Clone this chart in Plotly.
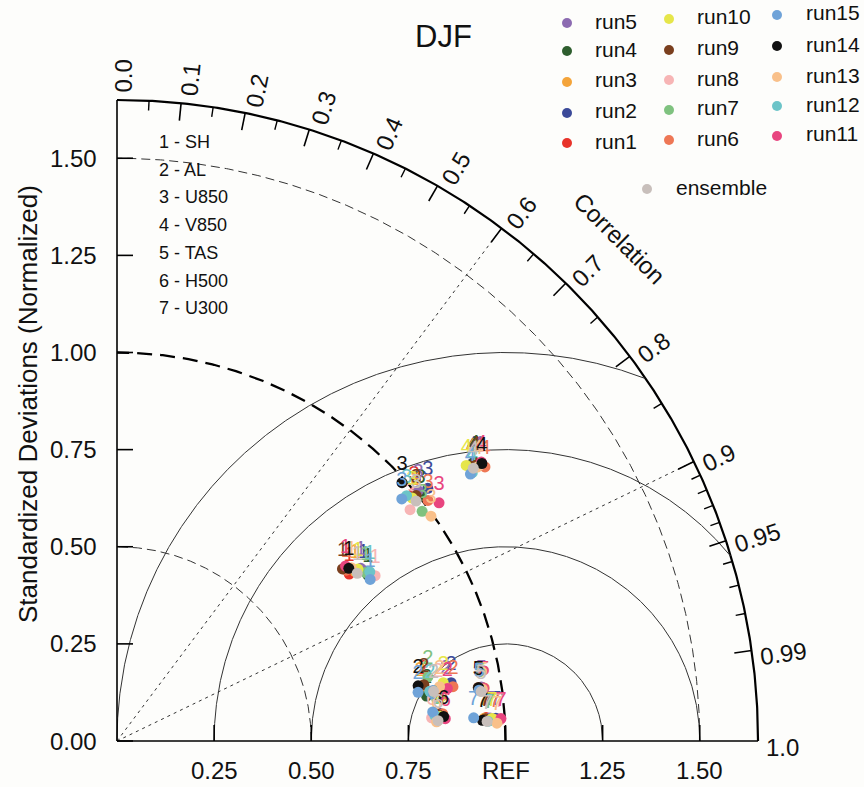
import numpy as np
import plotly.graph_objects as go

W, H = 864, 787
FONT = "Liberation Sans, Arial, Helvetica, sans-serif"

# ------------------------------------------------------------------ data
run_names = [f"run{i}" for i in range(1, 16)] + ["ensemble"]
run_colors = ["#E8332A", "#3B4A99", "#F4A43A", "#2E5E2E", "#8C6BB1",
              "#EE7755", "#7FC27F", "#F7B5B5", "#7A3F1E", "#E6E64A",
              "#E8457F", "#6CC4C8", "#F9C08A", "#111111", "#6FA3D8",
              "#C8BFBB"]
var_ids = ["1", "2", "3", "4", "5", "6", "7"]
var_names = ["SH", "AL", "U850", "V850", "TAS", "H500", "U300"]

# normalized standard deviation and correlation, order: run1..run15, ensemble
sd_SH = [0.736, 0.771, 0.752, 0.774, 0.769, 0.736, 0.773, 0.789,
         0.730, 0.762, 0.741, 0.783, 0.750, 0.744, 0.773, 0.754]
corr_SH = [0.812, 0.822, 0.814, 0.834, 0.816, 0.802, 0.828, 0.842,
           0.795, 0.814, 0.794, 0.831, 0.804, 0.802, 0.843, 0.820]
sd_AL = [0.802, 0.873, 0.792, 0.805, 0.857, 0.876, 0.817, 0.836,
         0.803, 0.853, 0.861, 0.815, 0.842, 0.788, 0.785, 0.825]
corr_AL = [0.9847, 0.9851, 0.9853, 0.9896, 0.9866, 0.9872, 0.9794, 0.9874,
           0.9836, 0.9844, 0.9876, 0.9876, 0.9861, 0.9836, 0.9872, 0.9879]
sd_U850 = [0.997, 1.031, 0.992, 1.003, 1.008, 1.012, 0.983, 0.961,
           0.996, 0.984, 1.031, 0.977, 0.994, 0.990, 0.962, 0.987]
corr_U850 = [0.767, 0.776, 0.776, 0.778, 0.769, 0.791, 0.799, 0.785,
             0.773, 0.772, 0.804, 0.763, 0.813, 0.741, 0.762, 0.780]
sd_V850 = [1.167, 1.161, 1.156, 1.167, 1.173, 1.181, 1.158, 1.174,
           1.167, 1.145, 1.181, 1.146, 1.165, 1.180, 1.140, 1.155]
corr_V850 = [0.792, 0.788, 0.789, 0.788, 0.793, 0.802, 0.793, 0.796,
             0.790, 0.785, 0.794, 0.798, 0.796, 0.796, 0.798, 0.794]
sd_TAS = [0.945, 0.950, 0.942, 0.946, 0.948, 0.955, 0.943, 0.952,
          0.940, 0.945, 0.953, 0.944, 0.950, 0.941, 0.941, 0.946]
corr_TAS = [0.9897, 0.9894, 0.9895, 0.9895, 0.9892, 0.9897, 0.9898, 0.9899,
            0.9892, 0.9901, 0.9898, 0.9897, 0.9900, 0.9893, 0.9903, 0.9909]
sd_H500 = [0.828, 0.833, 0.823, 0.831, 0.818, 0.841, 0.824, 0.812,
           0.829, 0.835, 0.847, 0.821, 0.824, 0.843, 0.816, 0.828]
corr_H500 = [0.9964, 0.9963, 0.9966, 0.9968, 0.9961, 0.9965, 0.9972, 0.9973,
             0.9966, 0.9971, 0.9977, 0.9968, 0.9982, 0.9972, 0.9958, 0.9980]
sd_U300 = [0.952, 0.977, 0.947, 0.957, 0.962, 0.974, 0.959, 0.987,
           0.950, 0.967, 0.990, 0.956, 0.979, 0.942, 0.920, 0.954]
corr_U300 = [0.9980, 0.9982, 0.9981, 0.9983, 0.9981, 0.9984, 0.9985, 0.9985,
             0.9982, 0.9982, 0.9983, 0.9986, 0.9989, 0.9984, 0.9979, 0.9986]

sd_table = [sd_SH, sd_AL, sd_U850, sd_V850, sd_TAS, sd_H500, sd_U300]
corr_table = [corr_SH, corr_AL, corr_U850, corr_V850, corr_TAS, corr_H500, corr_U300]

sd_max = 1.65
x_ticks = [0.25, 0.5, 0.75, 1.0, 1.25, 1.5]
x_tick_labels = ["0.25", "0.50", "0.75", "REF", "1.25", "1.50"]
y_ticks = [0.0, 0.25, 0.5, 0.75, 1.0, 1.25, 1.5]
y_tick_labels = ["0.00", "0.25", "0.50", "0.75", "1.00", "1.25", "1.50"]
corr_major = [0.0, 0.1, 0.2, 0.3, 0.4, 0.5, 0.6, 0.7, 0.8, 0.9, 0.95, 0.99, 1.0]
corr_major_labels = ["0.0", "0.1", "0.2", "0.3", "0.4", "0.5", "0.6", "0.7",
                     "0.8", "0.9", "0.95", "0.99", "1.0"]
corr_minor = [0.05, 0.15, 0.25, 0.35, 0.45, 0.55, 0.65, 0.75, 0.85,
              0.91, 0.92, 0.93, 0.94, 0.96, 0.97, 0.98]
rms_levels = [0.25, 0.5, 0.75, 1.0]
sd_dash_levels = [0.5, 1.5]
corr_dotted = [0.6, 0.9]

# ------------------------------------------------------------------ geometry
S = 388.5            # px per unit
OX, OY = 117, 741    # origin in px
xr = [-OX / S, (W - OX) / S]
yr = [(OY - H) / S, OY / S]

def px(x):  # paper x from pixel
    return x / W

def py(y):  # paper y from pixel
    return 1 - y / H

fig = go.Figure()

def add_line(xs, ys, color="#333333", width=1.0, dash="solid"):
    fig.add_trace(go.Scatter(x=xs, y=ys, mode="lines", hoverinfo="skip",
                             line=dict(color=color, width=width, dash=dash),
                             showlegend=False))

t = np.linspace(0, np.pi / 2, 400)
# outer arc
add_line(sd_max * np.cos(t), sd_max * np.sin(t), "#000000", 2.2)
# sd dashed arcs
for r in sd_dash_levels:
    add_line(r * np.cos(t), r * np.sin(t), "#333333", 1.0, "9px,5px")
add_line(1.0 * np.cos(t), 1.0 * np.sin(t), "#000000", 2.3, "15px,8px")
# rms circles
phi = np.linspace(0, np.pi, 1500)
for rho in rms_levels:
    xs = 1 + rho * np.cos(phi)
    ys = rho * np.sin(phi)
    m = (xs ** 2 + ys ** 2 <= sd_max ** 2 + 1e-9) & (xs >= -1e-9)
    add_line(xs[m], ys[m], "#333333", 1.0)
# dotted radial lines
for c in corr_dotted:
    a = np.arccos(c)
    add_line([0, sd_max * np.cos(a)], [0, sd_max * np.sin(a)], "#333333", 1.0, "3px,4px")
# axes
add_line([0, 0], [0, sd_max], "#000000", 1.6)
add_line([0, sd_max], [0, 0], "#000000", 1.3)
# axis ticks
tl = 16 / S
for v in x_ticks:
    add_line([v, v], [0, tl], "#000000", 1.6)
for v in y_ticks:
    add_line([0, tl], [v, v], "#000000", 1.6)
# correlation ticks
for c in corr_major[1:-1]:
    a = np.arccos(c)
    add_line([sd_max * np.cos(a), (sd_max - 0.045) * np.cos(a)],
             [sd_max * np.sin(a), (sd_max - 0.045) * np.sin(a)], "#000000", 1.6)
for c in corr_minor:
    a = np.arccos(c)
    add_line([sd_max * np.cos(a), (sd_max - 0.025) * np.cos(a)],
             [sd_max * np.sin(a), (sd_max - 0.025) * np.sin(a)], "#000000", 1.4)

# ------------------------------------------------------------------ data points
for i, name in enumerate(run_names):
    xs, ys = [], []
    for k in range(len(var_ids)):
        s = sd_table[k][i]
        a = np.arccos(corr_table[k][i])
        xs.append(s * np.cos(a))
        ys.append(s * np.sin(a))
    fig.add_trace(go.Scatter(
        x=xs, y=ys, mode="markers+text", text=var_ids, name=name,
        textposition="top center", cliponaxis=False, hoverinfo="skip",
        marker=dict(color=run_colors[i], size=11, line=dict(width=0)),
        textfont=dict(color=run_colors[i], size=20, family=FONT),
        showlegend=False))

# ------------------------------------------------------------------ annotations
ann = []
FS_TICK = 24
for v, lab in zip(x_ticks, x_tick_labels):
    ann.append(dict(x=v, y=(OY - 770) / S, xref="x", yref="y", text=lab,
                    showarrow=False, xanchor="center", yanchor="middle",
                    font=dict(size=FS_TICK, family=FONT, color="#111")))
for v, lab in zip(y_ticks, y_tick_labels):
    ann.append(dict(x=(99 - OX) / S, y=v, xref="x", yref="y", text=lab,
                    showarrow=False, xanchor="right", yanchor="middle",
                    font=dict(size=FS_TICK, family=FONT, color="#111")))
for c, lab in zip(corr_major, corr_major_labels):
    a = np.degrees(np.arccos(c)) - 0.6
    ndig = sum(ch.isdigit() for ch in lab)
    wpx = FS_TICK * (0.556 * ndig + 0.278)
    r = sd_max + 0.02 + (wpx / 2) / S
    ar = np.radians(a)
    ann.append(dict(x=r * np.cos(ar), y=r * np.sin(ar), xref="x", yref="y",
                    text=lab, showarrow=False, xanchor="center", yanchor="middle",
                    textangle=-np.degrees(np.arccos(c)),
                    font=dict(size=FS_TICK, family=FONT, color="#111")))
# "Correlation"
ar = np.radians(45)
ann.append(dict(x=1.83 * np.cos(ar), y=1.83 * np.sin(ar), xref="x", yref="y",
                text="Correlation", showarrow=False, xanchor="center",
                yanchor="middle", textangle=45,
                font=dict(size=24, family=FONT, color="#111")))
# y title
ann.append(dict(x=px(28), y=py(404), xref="paper", yref="paper",
                text="Standardized Deviations (Normalized)", showarrow=False,
                xanchor="center", yanchor="middle", textangle=-90,
                font=dict(size=26, family=FONT, color="#111")))
# title
ann.append(dict(x=px(444), y=py(37), xref="paper", yref="paper", text="DJF",
                showarrow=False, xanchor="center", yanchor="middle",
                font=dict(size=31, family=FONT, color="#111")))
# variable key
key_y = [142, 169.7, 197.4, 225, 252.8, 280.5, 308]
for vid, vn, yy in zip(var_ids, var_names, key_y):
    ann.append(dict(x=px(157), y=py(yy), xref="paper", yref="paper",
                    text=f"{vid} - {vn}", showarrow=False, xanchor="left",
                    yanchor="middle", font=dict(size=18, family=FONT, color="#111")))

# legend (3 columns + ensemble)
legend_cols = [
    (["run5", "run4", "run3", "run2", "run1"], 567, 593, [23, 51, 82, 113, 143]),
    (["run10", "run9", "run8", "run7", "run6"], 669, 695, [19, 50, 80, 110, 140]),
    (["run15", "run14", "run13", "run12", "run11"], 777, 804, [15, 46, 77, 106, 136]),
    (["ensemble"], 647, 674, [189]),
]
shapes = []
rdot = 5
for names, xd, xt, ys in legend_cols:
    for nm, yy in zip(names, ys):
        col = run_colors[run_names.index(nm)]
        shapes.append(dict(type="circle", xref="paper", yref="paper",
                           x0=px(xd - rdot), x1=px(xd + rdot),
                           y0=py(yy + rdot), y1=py(yy - rdot),
                           fillcolor=col, line=dict(width=0)))
        ann.append(dict(x=px(xt), y=py(yy - 2), xref="paper", yref="paper",
                        text=nm, showarrow=False, xanchor="left", yanchor="middle",
                        font=dict(size=21, family=FONT, color="#111")))

fig.update_layout(
    width=W, height=H, margin=dict(l=0, r=0, t=0, b=0),
    paper_bgcolor="#fdfdfb", plot_bgcolor="#fdfdfb",
    xaxis=dict(range=xr, visible=False, fixedrange=True),
    yaxis=dict(range=yr, visible=False, fixedrange=True),
    annotations=ann, shapes=shapes, showlegend=False,
    font=dict(family=FONT),
)
fig.write_html("out.html", config={"displayModeBar": False},
               post_script="document.body.style.margin='0';document.body.style.overflow='hidden';")
